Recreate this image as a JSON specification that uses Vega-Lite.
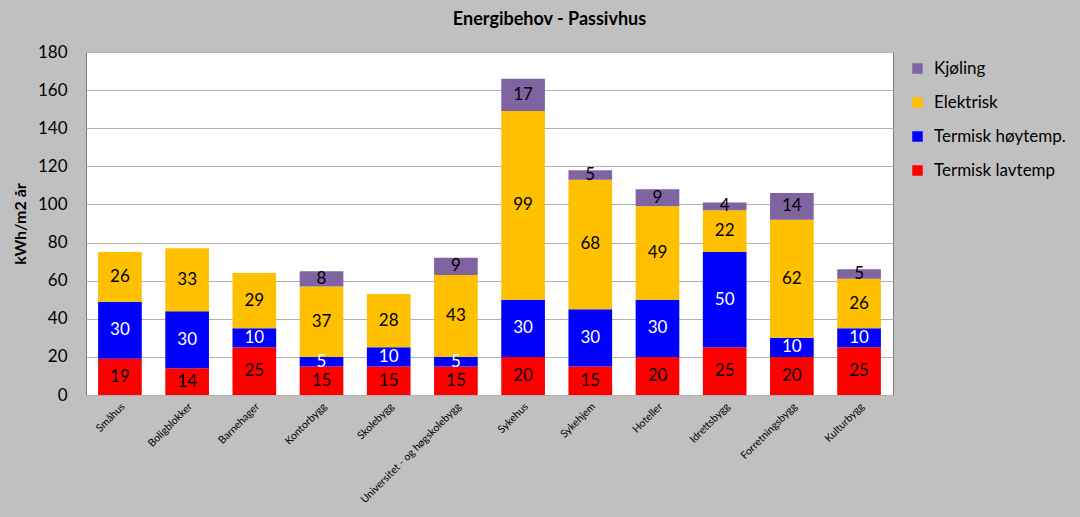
{
  "$schema": "https://vega.github.io/schema/vega-lite/v6.json",
  "width": 807,
  "height": 343,
  "autosize": {"type": "none"},
  "padding": {"left": 86, "top": 52, "right": 187, "bottom": 122},
  "background": "#c0c0c0",
  "title": {
    "text": "Energibehov - Passivhus",
    "font": "Lato",
    "fontSize": 18,
    "fontWeight": "bold",
    "color": "#000000",
    "anchor": "middle",
    "dx": 60,
    "offset": 14
  },
  "config": {
    "view": {"fill": "#ffffff", "stroke": "#808080", "strokeWidth": 1},
    "font": "Lato",
    "axisY": {
      "titleFont": "Lato",
      "titleFontSize": 16,
      "titleFontWeight": "bold",
      "titleColor": "#000000",
      "titlePadding": 9,
      "labelOverlap": false,
      "labelFontSize": 17,
      "labelColor": "#000000",
      "labelFont": "Lato",
      "labelPadding": 19,
      "ticks": false,
      "tickSize": 0,
      "domain": false,
      "grid": true,
      "gridColor": "#b0b0b0",
      "gridWidth": 1
    }
  },
  "data": {
    "values": [
      {"bygg": "Småhus", "type": "Termisk lavtemp", "v": 19},
      {"bygg": "Småhus", "type": "Termisk høytemp.", "v": 30},
      {"bygg": "Småhus", "type": "Elektrisk", "v": 26},
      {"bygg": "Boligblokker", "type": "Termisk lavtemp", "v": 14},
      {"bygg": "Boligblokker", "type": "Termisk høytemp.", "v": 30},
      {"bygg": "Boligblokker", "type": "Elektrisk", "v": 33},
      {"bygg": "Barnehager", "type": "Termisk lavtemp", "v": 25},
      {"bygg": "Barnehager", "type": "Termisk høytemp.", "v": 10},
      {"bygg": "Barnehager", "type": "Elektrisk", "v": 29},
      {"bygg": "Kontorbygg", "type": "Termisk lavtemp", "v": 15},
      {"bygg": "Kontorbygg", "type": "Termisk høytemp.", "v": 5},
      {"bygg": "Kontorbygg", "type": "Elektrisk", "v": 37},
      {"bygg": "Kontorbygg", "type": "Kjøling", "v": 8},
      {"bygg": "Skolebygg", "type": "Termisk lavtemp", "v": 15},
      {"bygg": "Skolebygg", "type": "Termisk høytemp.", "v": 10},
      {"bygg": "Skolebygg", "type": "Elektrisk", "v": 28},
      {"bygg": "Universitet - og høgskolebygg", "type": "Termisk lavtemp", "v": 15},
      {"bygg": "Universitet - og høgskolebygg", "type": "Termisk høytemp.", "v": 5},
      {"bygg": "Universitet - og høgskolebygg", "type": "Elektrisk", "v": 43},
      {"bygg": "Universitet - og høgskolebygg", "type": "Kjøling", "v": 9},
      {"bygg": "Sykehus", "type": "Termisk lavtemp", "v": 20},
      {"bygg": "Sykehus", "type": "Termisk høytemp.", "v": 30},
      {"bygg": "Sykehus", "type": "Elektrisk", "v": 99},
      {"bygg": "Sykehus", "type": "Kjøling", "v": 17},
      {"bygg": "Sykehjem", "type": "Termisk lavtemp", "v": 15},
      {"bygg": "Sykehjem", "type": "Termisk høytemp.", "v": 30},
      {"bygg": "Sykehjem", "type": "Elektrisk", "v": 68},
      {"bygg": "Sykehjem", "type": "Kjøling", "v": 5},
      {"bygg": "Hoteller", "type": "Termisk lavtemp", "v": 20},
      {"bygg": "Hoteller", "type": "Termisk høytemp.", "v": 30},
      {"bygg": "Hoteller", "type": "Elektrisk", "v": 49},
      {"bygg": "Hoteller", "type": "Kjøling", "v": 9},
      {"bygg": "Idrettsbygg", "type": "Termisk lavtemp", "v": 25},
      {"bygg": "Idrettsbygg", "type": "Termisk høytemp.", "v": 50},
      {"bygg": "Idrettsbygg", "type": "Elektrisk", "v": 22},
      {"bygg": "Idrettsbygg", "type": "Kjøling", "v": 4},
      {"bygg": "Forretningsbygg", "type": "Termisk lavtemp", "v": 20},
      {"bygg": "Forretningsbygg", "type": "Termisk høytemp.", "v": 10},
      {"bygg": "Forretningsbygg", "type": "Elektrisk", "v": 62},
      {"bygg": "Forretningsbygg", "type": "Kjøling", "v": 14},
      {"bygg": "Kulturbygg", "type": "Termisk lavtemp", "v": 25},
      {"bygg": "Kulturbygg", "type": "Termisk høytemp.", "v": 10},
      {"bygg": "Kulturbygg", "type": "Elektrisk", "v": 26},
      {"bygg": "Kulturbygg", "type": "Kjøling", "v": 5}
    ]
  },
  "transform": [
    {"calculate": "indexof(['Termisk lavtemp','Termisk høytemp.','Elektrisk','Kjøling'], datum.type)", "as": "ord"},
    {"stack": "v", "groupby": ["bygg"], "sort": [{"field": "ord", "order": "ascending"}], "as": ["v0", "v1"]},
    {"calculate": "(datum.v0 + datum.v1) / 2", "as": "mid"}
  ],
  "encoding": {
    "x": {
      "field": "bygg",
      "type": "nominal",
      "sort": ["Småhus", "Boligblokker", "Barnehager", "Kontorbygg", "Skolebygg", "Universitet - og høgskolebygg", "Sykehus", "Sykehjem", "Hoteller", "Idrettsbygg", "Forretningsbygg", "Kulturbygg"],
      "scale": {"paddingInner": 0.35, "paddingOuter": 0.18},
      "axis": {
        "title": null,
        "labelAngle": -45,
        "labelFontSize": 10.5,
        "labelColor": "#000000",
        "labelFont": "Lato",
        "labelPadding": 6,
        "ticks": false,
        "tickSize": 0,
        "domain": false,
        "grid": false,
        "labelLimit": 300
      }
    }
  },
  "layer": [
    {
      "mark": {"type": "bar"},
      "encoding": {
        "y": {
          "field": "v0",
          "type": "quantitative",
          "scale": {"domain": [0, 180], "nice": false},
          "axis": {
            "title": "kWh/m2 år",
            "values": [0, 20, 40, 60, 80, 100, 120, 140, 160, 180]
          }
        },
        "y2": {"field": "v1"},
        "color": {
          "field": "type",
          "type": "nominal",
          "scale": {
            "domain": ["Kjøling", "Elektrisk", "Termisk høytemp.", "Termisk lavtemp"],
            "range": ["#8064a2", "#ffc000", "#0000ff", "#ff0000"]
          },
          "legend": {
            "title": null,
            "orient": "none",
            "legendX": 823,
            "legendY": 8,
            "symbolType": "square",
            "symbolSize": 110,
            "symbolStrokeWidth": 0,
            "labelFontSize": 17,
            "labelFont": "Lato",
            "labelColor": "#000000",
            "rowPadding": 16,
            "labelOffset": 8
          }
        }
      }
    },
    {
      "mark": {"type": "text", "fontSize": 17, "font": "Lato", "baseline": "middle", "align": "center"},
      "encoding": {
        "y": {
          "field": "mid",
          "type": "quantitative",
          "axis": {
            "title": "kWh/m2 år",
            "values": [0, 20, 40, 60, 80, 100, 120, 140, 160, 180]
          }
        },
        "text": {"field": "v", "type": "quantitative"},
        "color": {
          "condition": {"test": "datum.type === 'Termisk høytemp.'", "value": "#ffffff"},
          "value": "#000000"
        }
      }
    }
  ]
}
